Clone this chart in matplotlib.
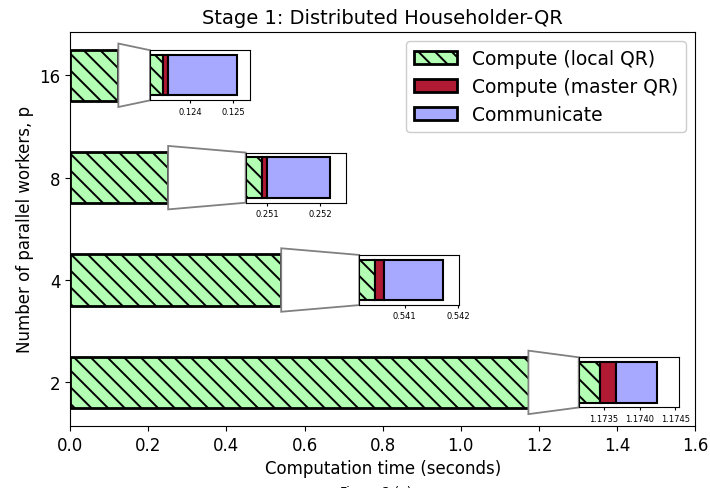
import matplotlib
matplotlib.use("Agg")
import matplotlib.pyplot as plt
from matplotlib.patches import Polygon

plt.rcParams["hatch.linewidth"] = 1.4

workers = ["2", "4", "8", "16"]
local_qr = [1.173444, 0.540457, 0.250896, 0.123375]
master_qr = [0.000227, 0.000162, 0.000104, 0.000128]
communicate = [0.000575, 0.001098, 0.001180, 0.001589]
inset_ticks = [[1.1735, 1.1740, 1.1745], [0.541, 0.542], [0.251, 0.252], [0.124, 0.125]]
inset_ticklabels = [["1.1735", "1.1740", "1.1745"], ["0.541", "0.542"], ["0.251", "0.252"], ["0.124", "0.125"]]
inset_left = [1.302, 0.740, 0.449, 0.204]

c_local = "#b3ffb3"
c_master = "#b01a33"
c_comm = "#a6a9ff"

fig = plt.figure(figsize=(7.1, 4.89), dpi=100)
ax = fig.add_axes([0.099, 0.127, 0.880, 0.806])

ypos = list(range(len(workers)))
bh = 0.5
ax.barh(ypos, local_qr, height=bh, color=c_local, edgecolor="black", hatch="\\\\", lw=2, label="Compute (local QR)")
ax.barh(ypos, master_qr, left=local_qr, height=bh, color=c_master, edgecolor="black", lw=2, label="Compute (master QR)")
lefts2 = [a + b for a, b in zip(local_qr, master_qr)]
ax.barh(ypos, communicate, left=lefts2, height=bh, color=c_comm, edgecolor="black", lw=2, label="Communicate")

ax.set_xlim(0, 1.6)
ax.set_yticks(ypos)
ax.set_yticklabels(workers)
ax.tick_params(labelsize=12)
ax.set_xlabel("Computation time (seconds)", fontsize=12)
ax.set_ylabel("Number of parallel workers, p", fontsize=12)
ax.set_title("Stage 1: Distributed Householder-QR", fontsize=14)
leg = ax.legend(loc="upper right", fontsize=13.5, framealpha=1, handlelength=2.3)

margin = 0.0003
ih = 0.49
yr = 0.31
iw = 0.256
for i in ypos:
    x0 = local_qr[i] - margin
    tot = local_qr[i] + master_qr[i] + communicate[i]
    x1 = tot + margin
    L = inset_left[i]
    poly = Polygon([(x0, i - yr), (x0, i + yr), (L, i + ih / 2), (L, i - ih / 2)],
                   closed=True, facecolor="white", edgecolor="0.5", lw=1.3, zorder=3)
    ax.add_patch(poly)
    ia = ax.inset_axes([L, i - ih / 2, iw, ih], transform=ax.transData, zorder=4)
    ia.barh([0], [local_qr[i]], height=bh, color=c_local, edgecolor="black", hatch="\\\\", lw=1.5)
    ia.barh([0], [master_qr[i]], left=[local_qr[i]], height=bh, color=c_master, edgecolor="black", lw=1.5)
    ia.barh([0], [communicate[i]], left=[local_qr[i] + master_qr[i]], height=bh, color=c_comm, edgecolor="black", lw=1.5)
    ia.set_xlim(x0, x1)
    ia.set_ylim(-yr, yr)
    ia.set_yticks([])
    ia.set_xticks(inset_ticks[i])
    ia.set_xticklabels(inset_ticklabels[i])
    ia.tick_params(labelsize=6, length=2.5, width=0.8, pad=2)

fig.text(0.53, -0.008, "Figure 2 (a)", ha="center", va="center", fontsize=9)
fig.savefig("out.png", dpi=100)
